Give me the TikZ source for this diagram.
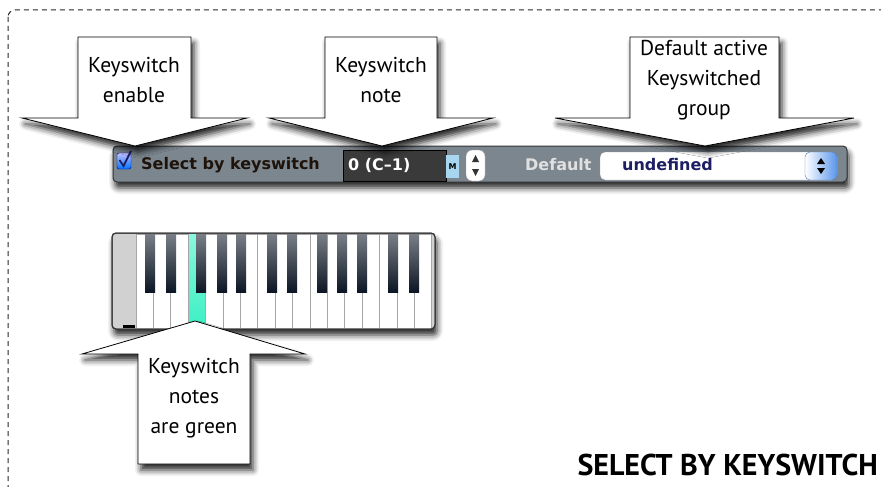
\documentclass[tikz,border=0pt]{standalone}
\usepackage{fontspec}
\setmainfont{PT Sans}
\newfontfamily\uifont{DejaVu Sans}
\usetikzlibrary{shadows,shadows.blur}

\definecolor{barfill}{RGB}{124,134,143}
\definecolor{fielddark}{RGB}{58,58,58}
\definecolor{keyblack}{RGB}{12,22,36}
\definecolor{keygreen}{RGB}{60,240,196}
\definecolor{mblue}{RGB}{168,214,240}
\definecolor{popblue}{RGB}{90,150,235}
\definecolor{undef}{RGB}{30,30,100}

\tikzset{
  callout/.style={draw=black, fill=white, line width=0.8pt,
    blur shadow={shadow xshift=3pt, shadow yshift=-6pt, shadow blur radius=6pt, shadow opacity=85}},
  note/.style={align=center, font=\fontsize{21.5}{30}\selectfont},
  uitext/.style={anchor=west, inner sep=0, font=\uifont\bfseries\fontsize{16}{16}\selectfont},
  panel/.style={draw=black!80, line width=1pt, rounded corners=4pt,
    blur shadow={shadow xshift=2pt, shadow yshift=-6pt, shadow blur radius=6pt, shadow opacity=85}},
  whitekey/.style={draw=black!35, fill=white, line width=0.8pt},
  blackkey/.style={top color=keyblack!55, bottom color=keyblack, draw=none},
}

\begin{document}
\begin{tikzpicture}[x=1pt, y=-1pt]
\useasboundingbox (0,0) rectangle (881,487);

% dashed frame round the whole panel
\draw[black!85, line width=1pt, dash pattern=on 5pt off 4pt, rounded corners=7pt]
  (8,10) rectangle (900,500);

% the toolbar
\fill[panel, fill=barfill] (113,146) rectangle (847,182);
\draw[rounded corners=1.5pt, draw=blue!60!black, top color=blue!25, bottom color=blue!55!cyan]
  (117,153) rectangle (131,169);
\draw[line width=1.8pt, undef] (119.5,160) -- (123.5,166) -- (131,151);
\node[uitext, text=black!85!brown] (enable) at (141,165) {Select by keyswitch};
\fill[fielddark, draw=black] (343,150) rectangle (446,181);
\node[uitext, text=white] (notefield) at (348,165) {0 (C–1)};
\fill[mblue] (446,155) rectangle (459,178);
\node[font=\uifont\bfseries\fontsize{8}{8}\selectfont, inner sep=0] (m) at (452.5,167) {M};
\draw[black!40, fill=white, rounded corners=6pt] (466,150) rectangle (485,181);
\fill[black!80] (472,162) -- (479,162) -- (475.5,155) -- cycle;
\fill[black!80] (472,169) -- (479,169) -- (475.5,176) -- cycle;
\node[uitext, text=black!12] (deflabel) at (525,165) {Default};
\draw[black!40, fill=white, rounded corners=5pt] (600,152) rectangle (837,180);
\draw[rounded corners=5pt, draw=popblue!80!black, left color=white, right color=popblue]
  (805,152) rectangle (837,180);
\fill[black] (817,164) -- (825,164) -- (821,158) -- cycle;
\fill[black] (817,168) -- (825,168) -- (821,174) -- cycle;
\node[uitext, text=undef] (group) at (622,165) {undefined};

% the keyboard
\fill[panel, fill=black!18] (112,233) rectangle (435,329);
\foreach \k in {0,...,16}
  \draw[whitekey] ({136+\k*17.4},234) rectangle ({136+(\k+1)*17.4},328);
\fill[top color=keygreen!60, bottom color=keygreen] (189,234.5) rectangle (205,327.5);
\foreach \c in {150,171,201,222,241,272,292,322,342,362,393,414}
  \fill[blackkey] (\c-5,234) rectangle (\c+5,292);
\draw[black!80, line width=1pt, rounded corners=4pt] (112,233) rectangle (435,329);
\fill[black] (123,325) rectangle (135,328);

% callouts pointing down at the toolbar
\draw[callout] (78,37) -- (191,37) -- (191,118) -- (247,118) -- (135,146)
  -- (22,118) -- (78,118) -- cycle;
\node[note] (c1) at (134,80) {Keyswitch\\enable};
\draw[callout] (325,37) -- (437,37) -- (437,118) -- (493,118) -- (382,146)
  -- (269,118) -- (325,118) -- cycle;
\node[note] (c2) at (381,80) {Keyswitch\\note};
\draw[callout] (630,37) -- (779,37) -- (779,118) -- (854,118) -- (705,146)
  -- (555,118) -- (630,118) -- cycle;
\node[note] (c3) at (704,80) {Default active\\Keyswitched\\group};

% callout pointing up at the keys
\draw[callout] (138,464) -- (250,464) -- (250,354) -- (305,354) -- (195,321)
  -- (82,354) -- (138,354) -- cycle;
\node[note] (c4) at (194,398) {Keyswitch\\notes\\are green};

\node[anchor=base east, font=\fontsize{30}{30}\selectfont\bfseries, inner sep=0]
  (title) at (878,475) {SELECT BY KEYSWITCH};
\end{tikzpicture}
\end{document}
